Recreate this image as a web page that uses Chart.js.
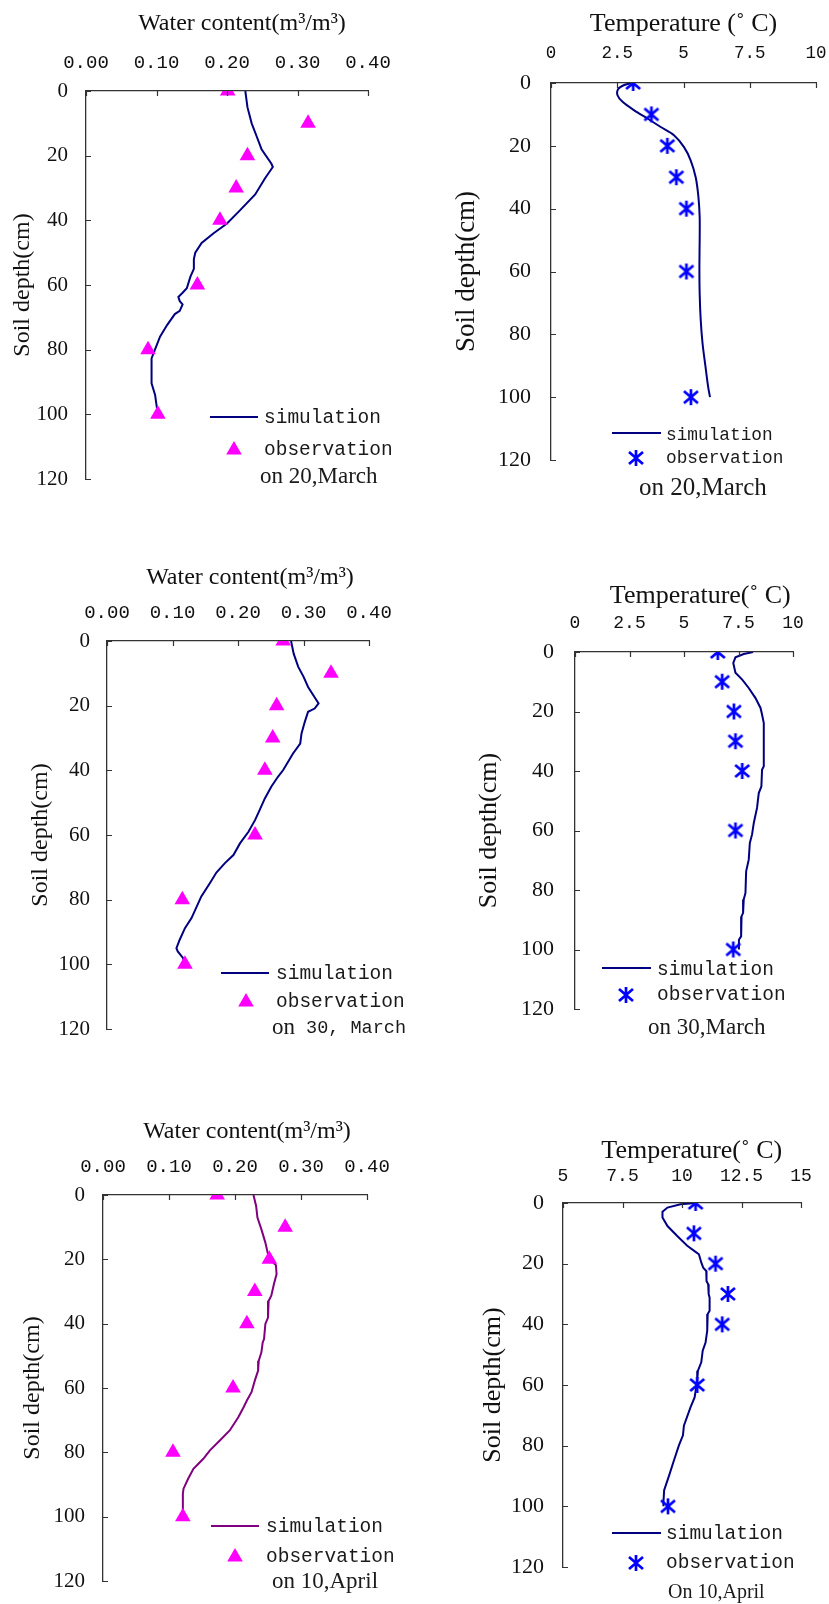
<!DOCTYPE html>
<html>
<head>
<meta charset="utf-8">
<script src="https://cdn.jsdelivr.net/npm/chart.js@4.4.1/dist/chart.umd.min.js"></script>
<style>
  html, body { margin: 0; padding: 0; background: #fff; }
  #page { position: relative; width: 829px; height: 1604px; overflow: hidden; background: #fff; }
  #page canvas { position: absolute; }
</style>
</head>
<body>
<div id="page"></div>
<script>
// observation depths (cm)
const waterObsDepth = [0, 10, 20, 30, 40, 60, 80, 100];
const tempObsDepth = [0, 10, 20, 30, 40, 60, 100];

// 20 March - water content
const mar20WaterObs = [0.201, 0.315, 0.229, 0.213, 0.190, 0.158, 0.088, 0.102];
const mar20WaterSimDepth = [0, 5, 10, 14, 18, 22.5, 23.5, 27, 32, 37, 41, 44, 47, 50, 52, 55, 57.5, 61, 62.4, 63.7, 65, 66, 68, 69, 72.4, 76, 81, 82.7, 90.4, 94, 98.7, 100];
const mar20WaterSim = [0.226, 0.229, 0.235, 0.242, 0.249, 0.263, 0.265, 0.254, 0.240, 0.218, 0.200, 0.181, 0.164, 0.155, 0.153, 0.153, 0.148, 0.143, 0.137, 0.131, 0.133, 0.137, 0.133, 0.126, 0.115, 0.105, 0.096, 0.093, 0.093, 0.098, 0.101, 0.103];

// 20 March - temperature
const mar20TempObs = [3.10, 3.79, 4.39, 4.73, 5.11, 5.11, 5.28];
const mar20TempSimDepth = [0, 0.8, 2, 3.9, 6, 8.7, 11.3, 14, 16.6, 20.4, 24.6, 30, 36, 42.6, 50, 58.5, 67, 75.5, 83, 90.3, 96.7, 100];
const mar20TempSim = [3.02, 2.72, 2.53, 2.51, 2.70, 3.14, 3.64, 4.14, 4.64, 5.02, 5.27, 5.46, 5.56, 5.61, 5.61, 5.60, 5.61, 5.65, 5.72, 5.83, 5.93, 6.00];

// 30 March - water content
const mar30WaterObs = [0.269, 0.342, 0.259, 0.253, 0.241, 0.226, 0.115, 0.119];
const mar30WaterSimDepth = [0, 3.9, 8, 11, 14.2, 16.8, 19.3, 20.9, 21.9, 25, 28.6, 31.7, 34.8, 39.9, 42, 45, 48.7, 52.3, 55.4, 59, 62.6, 66.2, 68.7, 71.6, 74.9, 79, 85.7, 88.8, 92.4, 95, 96, 98, 100];
const mar30WaterSim = [0.281, 0.285, 0.292, 0.300, 0.307, 0.315, 0.323, 0.317, 0.307, 0.302, 0.297, 0.295, 0.284, 0.269, 0.261, 0.251, 0.241, 0.233, 0.226, 0.216, 0.203, 0.193, 0.180, 0.167, 0.157, 0.144, 0.129, 0.119, 0.111, 0.106, 0.108, 0.116, 0.119];

// 30 March - temperature
const mar30TempObs = [6.55, 6.75, 7.29, 7.36, 7.67, 7.36, 7.26];
const mar30TempSimDepth = [0, 0.7, 1.8, 3.7, 7, 9.3, 12.1, 15.5, 18.8, 21, 23.9, 31.7, 38.4, 39.6, 45.2, 47.4, 52.4, 55.8, 57.5, 61.4, 64.2, 69.8, 73.7, 81, 83.2, 87.7, 88.9, 95.6, 96.7, 100];
const mar30TempSim = [8.17, 7.74, 7.36, 7.26, 7.36, 7.67, 7.97, 8.28, 8.51, 8.58, 8.66, 8.66, 8.66, 8.58, 8.55, 8.43, 8.35, 8.25, 8.20, 8.12, 8.02, 7.97, 7.85, 7.82, 7.74, 7.71, 7.64, 7.62, 7.52, 7.52];

// 10 April - water content
const apr10WaterObs = [0.173, 0.276, 0.252, 0.230, 0.218, 0.197, 0.106, 0.121];
const apr10WaterSimDepth = [0, 3.4, 7, 10.7, 14.8, 18.4, 20.5, 21.8, 24.6, 27.7, 31.3, 32.9, 38.1, 40.1, 44.8, 45.8, 48.9, 51.5, 54.6, 57.7, 61.3, 63.9, 66, 69.1, 73.2, 76.3, 79.4, 82, 84.1, 85.1, 88.2, 91.3, 92.9, 100];
const apr10WaterSim = [0.228, 0.232, 0.234, 0.240, 0.246, 0.250, 0.255, 0.262, 0.263, 0.259, 0.255, 0.251, 0.250, 0.246, 0.244, 0.242, 0.240, 0.236, 0.235, 0.230, 0.225, 0.218, 0.213, 0.205, 0.192, 0.177, 0.162, 0.152, 0.142, 0.137, 0.129, 0.122, 0.121, 0.121];

// 10 April - temperature
const apr10TempObs = [10.57, 10.50, 11.41, 11.93, 11.69, 10.64, 9.41];
const apr10TempSimDepth = [0, 0.4, 1.5, 2.9, 4.8, 7.6, 10.9, 14.1, 16.1, 16.9, 19.6, 21.3, 22.4, 25.7, 26.8, 30, 31.2, 35.5, 36.6, 42.1, 46, 48.7, 52.5, 55.3, 58.6, 64.1, 67.3, 73.4, 76.6, 79.9, 84.9, 89.8, 94.7, 98.6, 100];
const apr10TempSim = [10.57, 9.94, 9.39, 9.18, 9.18, 9.39, 9.80, 10.22, 10.57, 10.71, 10.81, 10.89, 11.02, 11.03, 11.10, 11.12, 11.16, 11.16, 11.08, 11.06, 10.99, 10.87, 10.81, 10.67, 10.64, 10.53, 10.36, 10.08, 10.04, 9.87, 9.66, 9.46, 9.25, 9.22, 9.22];

const serif = "'Liberation Serif', 'Times New Roman', serif";
const mono = "'Liberation Mono', 'DejaVu Sans Mono', monospace";
const textColor = "#111";
const axisColor = "#333";
const triRadius = 9;

// six-armed asterisk marker like the spreadsheet one
function makeAsterisk(color) {
  const c = document.createElement("canvas");
  c.width = 20;
  c.height = 20;
  const g = c.getContext("2d");
  g.strokeStyle = color;
  g.lineWidth = 2.7;
  g.beginPath();
  g.moveTo(10, 2); g.lineTo(10, 18);
  g.moveTo(3, 4); g.lineTo(17, 16);
  g.moveTo(17, 4); g.lineTo(3, 16);
  g.stroke();
  return c;
}
const asterisk = makeAsterisk("#0000ff");

const waterFmt = (v) => Number(v).toFixed(2);
const tempFmt = (v) => String(Number(Number(v).toFixed(1)));

// plot: [left, top, right, bottom] of the plot area, canvas: [x, y, w, h] (page px)
const panels = [
  {
    kind: "water", plot: [86, 91, 368, 479], canvas: [8, 9, 410, 491],
    xMin: 0, xMax: 0.4, xStep: 0.1, xFmt: waterFmt,
    xTitle: "     Water content(m³/m³)", titleSize: 24, yTitleSize: 24,
    xTickSize: 19, xTickPad: 17, yTickSize: 21, yTickPad: 18,
    obs: mar20WaterObs, obsDepth: waterObsDepth, sim: mar20WaterSim, simDepth: mar20WaterSimDepth,
    lineColor: "#000080", tension: 0,
    legend: { size: 19.5, line: [210, 258, 417], simText: [264, 418], marker: [234, 450], obsText: [264, 450],
      caption: { x: 260, y: 477, parts: [["on 20,March", serif, 23]] } }
  },
  {
    kind: "temp", plot: [551, 83, 816, 460], canvas: [451, 9, 377, 492],
    xMin: 0, xMax: 10, xStep: 2.5, xFmt: tempFmt,
    xTitle: "Temperature (˚ C)", titleSize: 26, yTitleSize: 27,
    xTickSize: 17.5, xTickPad: 19, yTickSize: 22, yTickPad: 20,
    obs: mar20TempObs, obsDepth: tempObsDepth, sim: mar20TempSim, simDepth: mar20TempSimDepth,
    lineColor: "#000080", tension: 0.3,
    legend: { size: 17.8, line: [612, 661, 433], simText: [666, 435], marker: [636, 458], obsText: [666, 458],
      caption: { x: 639, y: 488, parts: [["on 20,March", serif, 25]] } }
  },
  {
    kind: "water", plot: [107, 641, 369, 1029], canvas: [26, 563, 393, 482],
    xMin: 0, xMax: 0.4, xStep: 0.1, xFmt: waterFmt,
    xTitle: "    Water content(m³/m³)", titleSize: 24, yTitleSize: 24,
    xTickSize: 19, xTickPad: 17, yTickSize: 21, yTickPad: 17,
    obs: mar30WaterObs, obsDepth: waterObsDepth, sim: mar30WaterSim, simDepth: mar30WaterSimDepth,
    lineColor: "#000080", tension: 0,
    legend: { size: 19.5, line: [221, 269, 973], simText: [276, 974], marker: [246, 1002], obsText: [276, 1002],
      caption: { x: 272, y: 1028, parts: [["on", serif, 23], [" 30, March", mono, 18.5]] } }
  },
  {
    kind: "temp", plot: [575, 652, 793, 1009], canvas: [474, 581, 333, 464],
    xMin: 0, xMax: 10, xStep: 2.5, xFmt: tempFmt,
    xTitle: "     Temperature(˚ C)", titleSize: 26, yTitleSize: 26,
    xTickSize: 18, xTickPad: 18, yTickSize: 22, yTickPad: 21,
    obs: mar30TempObs, obsDepth: tempObsDepth, sim: mar30TempSim, simDepth: mar30TempSimDepth,
    lineColor: "#000080", tension: 0,
    legend: { size: 19.5, line: [602, 651, 968], simText: [657, 970], marker: [626, 995], obsText: [657, 995],
      caption: { x: 648, y: 1028, parts: [["on 30,March", serif, 23]] } }
  },
  {
    kind: "water", plot: [103, 1195, 367, 1581], canvas: [18, 1117, 399, 483],
    xMin: 0, xMax: 0.4, xStep: 0.1, xFmt: waterFmt,
    xTitle: "    Water content(m³/m³)", titleSize: 24, yTitleSize: 24,
    xTickSize: 19, xTickPad: 17, yTickSize: 21, yTickPad: 18,
    obs: apr10WaterObs, obsDepth: waterObsDepth, sim: apr10WaterSim, simDepth: apr10WaterSimDepth,
    lineColor: "#800080", tension: 0,
    legend: { size: 19.5, line: [211, 259, 1526], simText: [266, 1527], marker: [235, 1557], obsText: [266, 1557],
      caption: { x: 272, y: 1582, parts: [["on 10,April", serif, 23]] } }
  },
  {
    kind: "temp", plot: [563, 1203, 801, 1567], canvas: [478, 1136, 345, 468],
    xMin: 5, xMax: 15, xStep: 2.5, xFmt: tempFmt,
    xTitle: "   Temperature(˚ C)", titleSize: 26, yTitleSize: 26,
    xTickSize: 18, xTickPad: 16, yTickSize: 22, yTickPad: 19,
    obs: apr10TempObs, obsDepth: tempObsDepth, sim: apr10TempSim, simDepth: apr10TempSimDepth,
    lineColor: "#000080", tension: 0,
    legend: { size: 19.5, line: [612, 661, 1533], simText: [666, 1534], marker: [636, 1563], obsText: [666, 1563],
      caption: { x: 668, y: 1593, parts: [["On 10,April", serif, 20]] } }
  }
];

function drawMarker(ctx, style, color, x, y) {
  if (style === "triangle") {
    const r = triRadius;
    ctx.fillStyle = color;
    ctx.beginPath();
    ctx.moveTo(x, y - r);
    ctx.lineTo(x + r * Math.sin(2 * Math.PI / 3), y + r / 2);
    ctx.lineTo(x - r * Math.sin(2 * Math.PI / 3), y + r / 2);
    ctx.closePath();
    ctx.fill();
  } else {
    ctx.drawImage(style, x - style.width / 2, y - style.height / 2);
  }
}

function buildPanel(p) {
  const cv = document.createElement("canvas");
  cv.width = p.canvas[2];
  cv.height = p.canvas[3];
  cv.style.left = p.canvas[0] + "px";
  cv.style.top = p.canvas[1] + "px";
  document.getElementById("page").appendChild(cv);

  const [L, T, R, B] = p.plot;
  const ox = p.canvas[0], oy = p.canvas[1];
  const yW = L - ox, xH = T - oy;
  const padR = ox + p.canvas[2] - R, padB = oy + p.canvas[3] - B;
  const obsStyle = p.kind === "water" ? "triangle" : asterisk;
  const obsColor = p.kind === "water" ? "#ff00ff" : "#0000ff";

  new Chart(cv, {
    type: "scatter",
    data: {
      datasets: [
        {
          label: "simulation",
          data: p.simDepth.map((d, i) => ({ x: p.sim[i], y: d })),
          showLine: true,
          borderColor: p.lineColor,
          borderWidth: 2,
          pointRadius: 0,
          tension: p.tension,
          order: 2,
        },
        {
          label: "observation",
          data: p.obsDepth.map((d, i) => ({ x: p.obs[i], y: d })),
          pointStyle: obsStyle,
          pointRadius: triRadius,
          backgroundColor: obsColor,
          borderColor: obsColor,
          borderWidth: 0,
          order: 1,
        },
      ],
    },
    options: {
      responsive: false,
      animation: false,
      events: [],
      layout: { padding: { left: 0, top: 0, right: padR, bottom: padB } },
      plugins: {
        legend: { display: false },
        tooltip: { enabled: false },
      },
      scales: {
        x: {
          type: "linear",
          position: "top",
          min: p.xMin,
          max: p.xMax,
          ticks: {
            stepSize: p.xStep,
            autoSkip: false,
            maxRotation: 0,
            padding: p.xTickPad,
            color: textColor,
            font: { family: mono, size: p.xTickSize },
            callback: p.xFmt,
          },
          grid: { display: false, drawTicks: false },
          border: { display: true, color: axisColor, width: 1.3 },
          title: {
            display: true,
            text: p.xTitle,
            color: textColor,
            padding: 0,
            font: { family: serif, size: p.titleSize },
          },
          afterFit: (s) => {
            s.height = xH;
            s.paddingLeft = 0;
            s.paddingRight = 0;
          },
        },
        y: {
          type: "linear",
          position: "left",
          reverse: true,
          min: 0,
          max: 120,
          ticks: {
            stepSize: 20,
            padding: p.yTickPad,
            color: textColor,
            font: { family: serif, size: p.yTickSize },
          },
          grid: { display: false, drawTicks: false },
          border: { display: true, color: axisColor, width: 1.3 },
          title: {
            display: true,
            text: "Soil depth(cm)",
            color: textColor,
            padding: 0,
            font: { family: serif, size: p.yTitleSize },
          },
          afterFit: (s) => {
            s.width = yW;
            s.paddingTop = 0;
            s.paddingBottom = 0;
          },
        },
      },
    },
    plugins: [
      {
        id: "notes",
        afterDraw(chart) {
          const ctx = chart.ctx;
          const area = chart.chartArea;
          const xs = chart.scales.x, ys = chart.scales.y;
          ctx.save();
          // small tick marks pointing into the plot
          ctx.strokeStyle = axisColor;
          ctx.lineWidth = 1.2;
          ctx.beginPath();
          xs.ticks.forEach((t) => {
            const px = Math.round(xs.getPixelForValue(t.value)) + 0.5;
            ctx.moveTo(px, area.top);
            ctx.lineTo(px, area.top + 5);
          });
          ys.ticks.forEach((t) => {
            const py = Math.round(ys.getPixelForValue(t.value)) + 0.5;
            ctx.moveTo(area.left, py);
            ctx.lineTo(area.left + 5, py);
          });
          ctx.stroke();

          // legend
          const lg = p.legend;
          const sim = chart.data.datasets[0], obs = chart.data.datasets[1];
          ctx.strokeStyle = sim.borderColor;
          ctx.lineWidth = 2;
          ctx.beginPath();
          ctx.moveTo(lg.line[0] - ox, lg.line[2] - oy);
          ctx.lineTo(lg.line[1] - ox, lg.line[2] - oy);
          ctx.stroke();
          drawMarker(ctx, obs.pointStyle, obs.backgroundColor, lg.marker[0] - ox, lg.marker[1] - oy);

          ctx.fillStyle = "#1a1a1a";
          ctx.textAlign = "left";
          ctx.textBaseline = "middle";
          ctx.font = lg.size + "px " + mono;
          ctx.fillText(sim.label, lg.simText[0] - ox, lg.simText[1] - oy);
          ctx.fillText(obs.label, lg.obsText[0] - ox, lg.obsText[1] - oy);

          // date caption
          let cx = lg.caption.x - ox;
          lg.caption.parts.forEach(([txt, fam, sz]) => {
            ctx.font = sz + "px " + fam;
            ctx.fillText(txt, cx, lg.caption.y - oy);
            cx += ctx.measureText(txt).width;
          });
          ctx.restore();
        },
      },
    ],
  });
}

panels.forEach(buildPanel);
</script>
</body>
</html>
